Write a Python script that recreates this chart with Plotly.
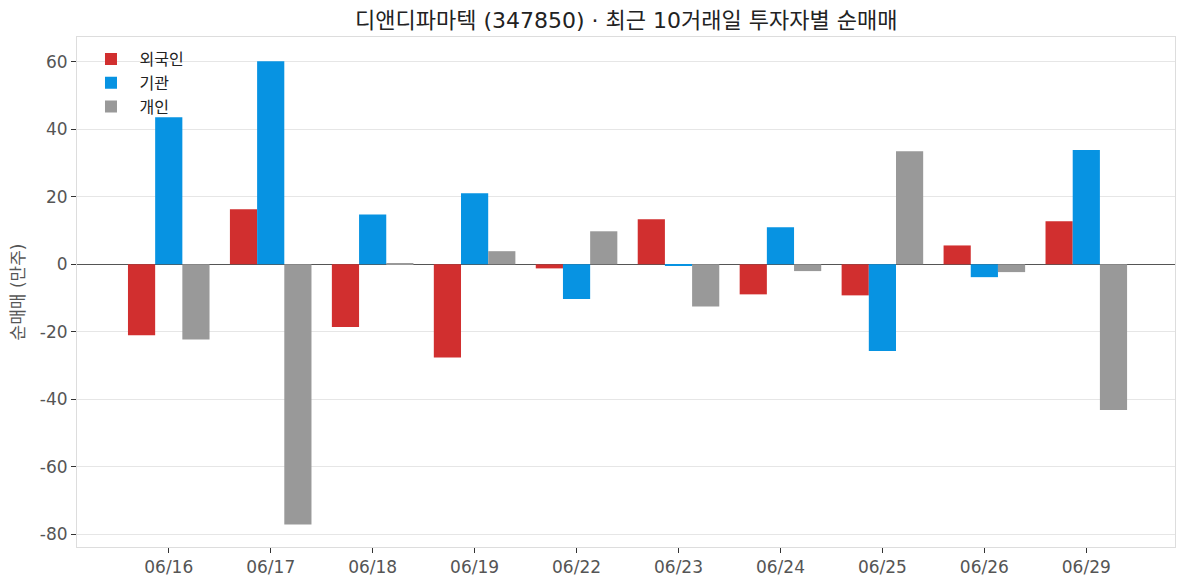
import plotly.graph_objects as go

dates = ["06/16", "06/17", "06/18", "06/19", "06/22", "06/23", "06/24", "06/25", "06/26", "06/29"]
foreign = [-21.0, 16.3, -18.6, -27.6, -1.2, 13.4, -8.9, -9.2, 5.6, 12.8]
institution = [43.6, 60.2, 14.8, 21.1, -10.3, -0.5, 11.0, -25.7, -3.8, 33.9]
individual = [-22.3, -77.1, 0.3, 3.9, 9.8, -12.5, -2.0, 33.5, -2.3, -43.2]
y_ticks = [-80, -60, -40, -20, 0, 20, 40, 60]
y_tick_labels = ["-80", "-60", "-40", "-20", "0", "20", "40", "60"]

series = [
    ("외국인", foreign, "#d12f2f"),
    ("기관", institution, "#0793e2"),
    ("개인", individual, "#999999"),
]

font = "DejaVu Sans, Noto Sans CJK KR, sans-serif"

fig = go.Figure()
for name, vals, color in series:
    fig.add_trace(go.Bar(x=list(range(len(dates))), y=vals, name=name,
                         marker=dict(color=color, line=dict(width=0))))

fig.update_layout(
    width=1187, height=587,
    margin=dict(l=77, r=12, t=37, b=40, autoexpand=False),
    paper_bgcolor="white", plot_bgcolor="white",
    barmode="group", bargap=0.2, bargroupgap=0,
    font=dict(family=font, size=15, color="#555555"),
    title=dict(text="디앤디파마텍 (347850) · 최근 10거래일 투자자별 순매매",
               x=0.5276, xanchor="center", y=0.965, yanchor="middle",
               font=dict(size=22, color="#222222", family=font)),
    legend=dict(x=0.005, y=0.99, xanchor="left", yanchor="top",
                bgcolor="rgba(255,255,255,0)", font=dict(size=16, color="#222222"),
                itemwidth=47, tracegroupgap=0),
    showlegend=True,
)

fig.update_xaxes(
    range=[-0.9, 9.87], tickmode="array", tickvals=list(range(len(dates))), ticktext=dates,
    showgrid=False, ticks="outside", ticklen=5, tickcolor="#333333",
    showline=True, linecolor="#dddddd", linewidth=1, mirror=True, automargin=False,
    tickfont=dict(size=17, color="#555555"), zeroline=False,
)
fig.update_yaxes(
    range=[-83.8, 67.4], tickmode="array", tickvals=y_ticks, ticktext=y_tick_labels,
    showgrid=True, gridcolor="#e6e6e6", gridwidth=1,
    ticks="outside", ticklen=5, tickcolor="#333333",
    showline=True, linecolor="#dddddd", linewidth=1, mirror=True, automargin=False,
    zeroline=True, zerolinecolor="#555555", zerolinewidth=1.3,
    tickfont=dict(size=17, color="#555555"),
    title=dict(text="순매매 (만주)", font=dict(size=17, color="#555555"), standoff=10),
)

fig.write_html("out.html")
